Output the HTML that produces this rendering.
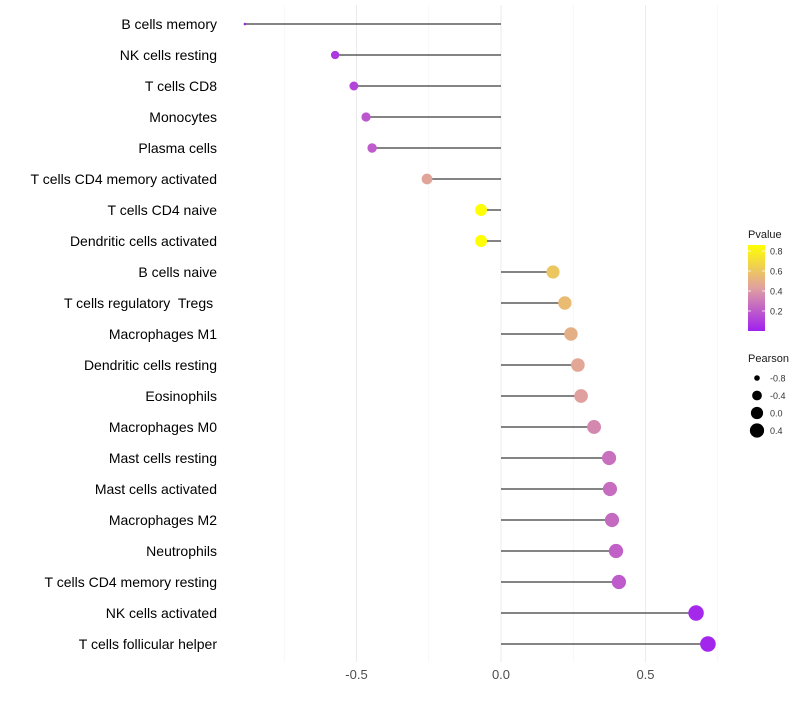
<!DOCTYPE html>
<html><head><meta charset="utf-8"><style>
body{margin:0;background:#fff;}
svg{font-family:"Liberation Sans",sans-serif;}
</style></head><body>
<svg id="c" width="800" height="700"></svg>
<script>
const categories=["B cells memory","NK cells resting","T cells CD8","Monocytes","Plasma cells","T cells CD4 memory activated","T cells CD4 naive","Dendritic cells activated","B cells naive","T cells regulatory  Tregs ","Macrophages M1","Dendritic cells resting","Eosinophils","Macrophages M0","Mast cells resting","Mast cells activated","Macrophages M2","Neutrophils","T cells CD4 memory resting","NK cells activated","T cells follicular helper"];
const pearson=[-0.886,-0.574,-0.509,-0.467,-0.446,-0.256,-0.069,-0.069,0.18,0.221,0.242,0.266,0.277,0.322,0.374,0.377,0.384,0.398,0.408,0.675,0.716];
const pvalue=[0.0,0.08,0.12,0.18,0.2,0.45,0.86,0.86,0.6,0.55,0.5,0.46,0.43,0.35,0.27,0.26,0.25,0.22,0.2,0.03,0.02];
const xTicks=[-0.5,0,0.5];
const xTickLabels=["-0.5","0.0","0.5"];
const pTicks=[0.2,0.4,0.6,0.8];
const sizeTicks=[-0.8,-0.4,0.0,0.4];

const NS="http://www.w3.org/2000/svg";
const svg=document.getElementById('c');
function mk(t,a,p){const e=document.createElementNS(NS,t);for(const k in a)e.setAttribute(k,a[k]);(p||svg).appendChild(e);return e;}
const x=v=>501+v*289;
const y=i=>24+i*31;
const pMin=Math.min(...pearson),pMax=Math.max(...pearson);
const r=v=>1.3*(1+5*Math.sqrt(Math.max(0,(v-pMin)/(pMax-pMin))));
const stops=[[0,[160,32,240]],[0.43,[224,160,160]],[0.86,[255,255,0]]];
function col(p){p=Math.max(0,Math.min(0.86,p));for(let i=0;i<stops.length-1;i++){const[a,ca]=stops[i],[b,cb]=stops[i+1];if(p<=b){const t=(p-a)/(b-a);return `rgb(${ca.map((c,j)=>Math.round(c+(cb[j]-c)*t)).join(',')})`;}}return 'rgb(255,255,0)';}

[-0.75,-0.25,0.25,0.75].forEach(v=>{const g=mk('line',{x1:x(v),x2:x(v),y1:5,y2:662,stroke:'#f3f3f3','stroke-width':0.6});

});
xTicks.forEach((v,i)=>{const g=mk('line',{x1:x(v),x2:x(v),y1:5,y2:662,stroke:'#ebebeb','stroke-width':1});


const t=mk('text',{x:x(v),y:679,'text-anchor':'middle','font-size':13,fill:'#4d4d4d'});t.textContent=xTickLabels[i];

});

categories.forEach((c,i)=>{
 const t=mk('text',{x:217,y:y(i)+5,'text-anchor':'end','font-size':14,fill:'#000',style:'white-space:pre'});t.textContent=c;
 
 
 const l=mk('line',{x1:x(0),x2:x(pearson[i]),y1:y(i),y2:y(i),stroke:'#3a3a3a','stroke-width':1.3});
 
 
 const d=mk('circle',{cx:x(pearson[i]),cy:y(i),r:r(pearson[i]),fill:col(pvalue[i])});
 
 
});

const lt=mk('text',{x:748,y:238,'font-size':11,fill:'#1a1a1a'});lt.textContent='Pvalue';


const defs=mk('defs',{});const gr=mk('linearGradient',{id:'pg',x1:0,y1:1,x2:0,y2:0},defs);
stops.forEach(s=>mk('stop',{offset:s[0]/0.86,'stop-color':`rgb(${s[1].join(',')})`},gr));
const bar=mk('rect',{x:748,y:245,width:17,height:86,fill:'url(#pg)'});


pTicks.forEach(p=>{const yy=331-p*100;
 mk('line',{x1:748,x2:751,y1:yy,y2:yy,stroke:'#fff','stroke-width':0.8});mk('line',{x1:762,x2:765,y1:yy,y2:yy,stroke:'#fff','stroke-width':0.8});
 const t=mk('text',{x:770,y:yy+3.5,'font-size':9,fill:'#333'});t.textContent=p.toFixed(1);
 
 });
const st=mk('text',{x:748,y:362,'font-size':11,fill:'#1a1a1a'});st.textContent='Pearson';


sizeTicks.forEach((v,i)=>{const yy=378+i*17.5;
 const c=mk('circle',{cx:757,cy:yy,r:r(v),fill:'#000'});
 
 
 const t=mk('text',{x:770,y:yy+3.5,'font-size':9,fill:'#333'});t.textContent=v.toFixed(1);
 
 });
</script></body></html>
